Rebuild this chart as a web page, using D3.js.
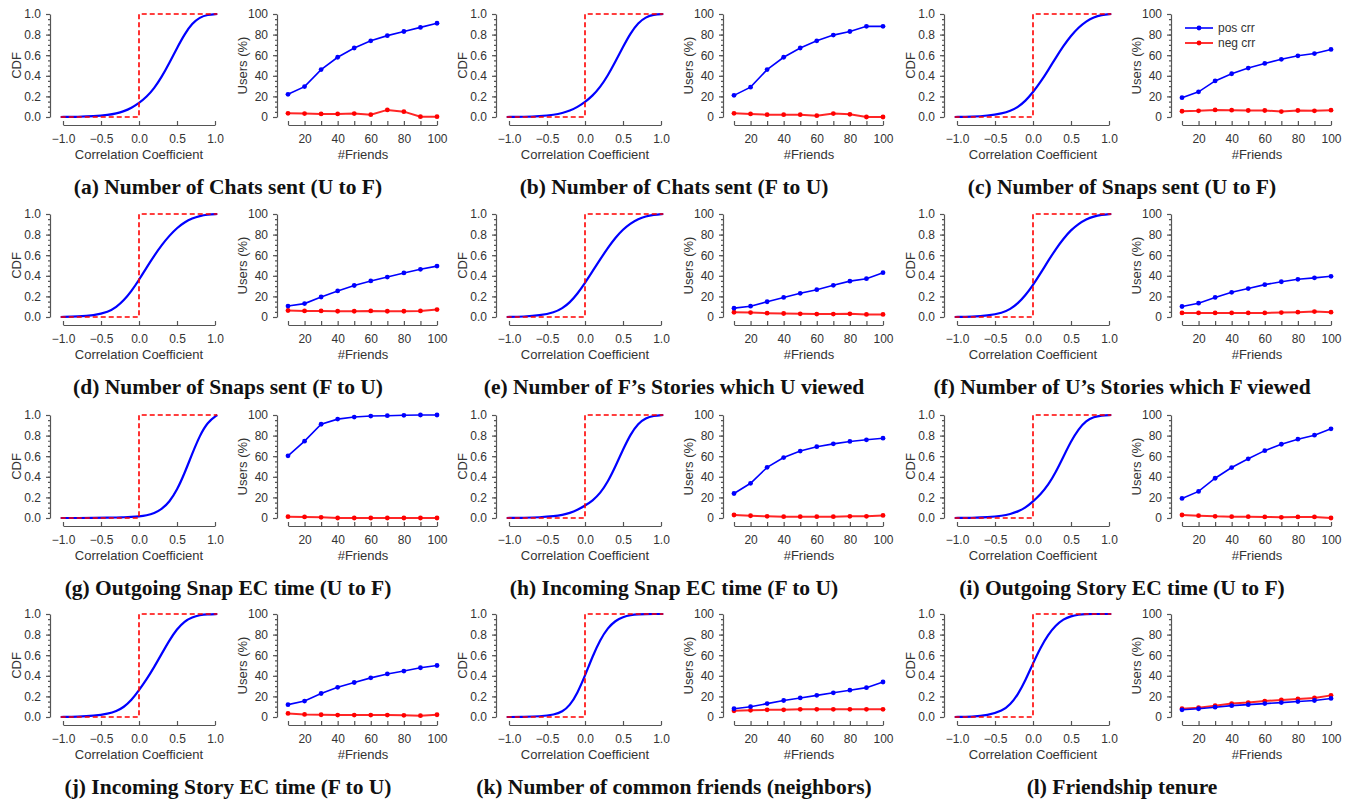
<!DOCTYPE html>
<html>
<head>
<meta charset="utf-8">
<script src="https://cdn.jsdelivr.net/npm/d3@7"></script>
<style>
  body { margin: 0; background: #fff; }
  svg { display: block; }
  .ax text { font-family: "Liberation Sans", Arial, sans-serif; font-size: 12px; fill: #333; }
  .ax path, .ax line { stroke: #555; stroke-width: 1.2; }
  .lbl { font-family: "Liberation Sans", Arial, sans-serif; font-size: 13px; fill: #333; }
  .cap { font-family: "Liberation Serif", "Times New Roman", serif; font-weight: bold; font-size: 21.5px; fill: #111; }
</style>
</head>
<body>
<svg id="fig" width="1354" height="801"></svg>
<script>
// ---- data ----
const captions = [
  "(a) Number of Chats sent (U to F)",
  "(b) Number of Chats sent (F to U)",
  "(c) Number of Snaps sent (U to F)",
  "(d) Number of Snaps sent (F to U)",
  "(e) Number of F\u2019s Stories which U viewed",
  "(f) Number of U\u2019s Stories which F viewed",
  "(g) Outgoing Snap EC time (U to F)",
  "(h) Incoming Snap EC time (F to U)",
  "(i) Outgoing Story EC time (U to F)",
  "(j) Incoming Story EC time (F to U)",
  "(k) Number of common friends (neighbors)",
  "(l) Friendship tenure"
];

// correlation coefficient grid for the CDF curves
const corrX = [-1.03, -0.8, -0.6, -0.4, -0.3, -0.2, -0.1, 0, 0.1, 0.2, 0.3, 0.4, 0.5, 0.6, 0.7, 0.8, 0.9, 1.03];

// CDF values (blue curve), one row per subfigure
const cdfValues = [
  [0, 0.002, 0.007, 0.02, 0.034, 0.055, 0.088, 0.135, 0.195, 0.278, 0.39, 0.525, 0.67, 0.805, 0.91, 0.968, 0.993, 1.0],
  [0, 0.002, 0.008, 0.022, 0.037, 0.06, 0.096, 0.145, 0.206, 0.29, 0.402, 0.537, 0.68, 0.815, 0.915, 0.97, 0.994, 1.0],
  [0, 0.003, 0.012, 0.035, 0.058, 0.095, 0.155, 0.24, 0.34, 0.455, 0.575, 0.69, 0.79, 0.87, 0.93, 0.97, 0.99, 1.0],
  [0, 0.004, 0.015, 0.05, 0.095, 0.16, 0.25, 0.36, 0.48, 0.595, 0.7, 0.79, 0.865, 0.92, 0.958, 0.982, 0.994, 1.0],
  [0, 0.004, 0.014, 0.045, 0.083, 0.14, 0.225, 0.33, 0.445, 0.56, 0.67, 0.77, 0.85, 0.91, 0.952, 0.978, 0.992, 1.0],
  [0, 0.003, 0.012, 0.04, 0.075, 0.13, 0.21, 0.31, 0.425, 0.545, 0.66, 0.76, 0.845, 0.905, 0.95, 0.977, 0.992, 1.0],
  [0, 0, 0.001, 0.003, 0.005, 0.007, 0.01, 0.015, 0.025, 0.045, 0.085, 0.155, 0.27, 0.435, 0.625, 0.8, 0.93, 1.0],
  [0, 0.002, 0.006, 0.018, 0.03, 0.048, 0.078, 0.12, 0.168, 0.24, 0.35, 0.5, 0.665, 0.815, 0.92, 0.972, 0.993, 1.0],
  [0, 0.002, 0.007, 0.022, 0.038, 0.062, 0.1, 0.16, 0.23, 0.32, 0.445, 0.595, 0.745, 0.865, 0.945, 0.982, 0.996, 1.0],
  [0, 0.003, 0.01, 0.032, 0.055, 0.095, 0.162, 0.26, 0.365, 0.485, 0.615, 0.745, 0.855, 0.93, 0.97, 0.99, 0.997, 1.0],
  [0, 0.001, 0.005, 0.022, 0.05, 0.11, 0.23, 0.4, 0.59, 0.75, 0.865, 0.935, 0.972, 0.99, 0.997, 1.0, 1.0, 1.0],
  [0, 0.003, 0.015, 0.06, 0.12, 0.215, 0.355, 0.52, 0.675, 0.8, 0.89, 0.95, 0.98, 0.994, 0.999, 1.0, 1.0, 1.0]
];

// red dashed reference step
const stepX = [-1.03, 0, 0, 1.03];
const stepY = [0, 0, 1, 1];

// #Friends vs Users (%)
const friends = [10, 20, 30, 40, 50, 60, 70, 80, 90, 100];
const posCorr = [
  [22, 29.5, 46, 58, 67, 74, 79, 83, 87, 91],
  [21, 29, 46, 58, 67, 74, 79.5, 83, 88, 88],
  [18.8, 24.4, 35, 42, 47.5, 52, 56, 59.4, 61.6, 65.6],
  [10.6, 13, 19.4, 25.3, 30.6, 35, 38.8, 42.8, 46.3, 49.4],
  [8.6, 10.5, 14.8, 19, 23, 26.5, 30.8, 34.8, 37.2, 43],
  [10.2, 13.4, 19, 24, 27.6, 31.4, 34.2, 36.6, 38, 39.5],
  [60.4, 74.6, 91, 96, 98, 99, 99.3, 99.7, 100, 100],
  [23.8, 33.7, 49.2, 58.7, 65, 69.2, 72, 74.3, 75.9, 77.5],
  [19, 25.8, 38.6, 49, 57.5, 65.4, 71.6, 76.5, 80.4, 86.6],
  [12, 15.5, 22.8, 28.8, 33.5, 38, 41.8, 44.6, 47.8, 50],
  [8, 10, 13, 16, 18.5, 21, 23.5, 26, 28.5, 34],
  [7, 8, 9.5, 11, 12, 13, 14, 15, 16, 18]
];
const negCorr = [
  [3.6, 3.3, 3, 3, 3.3, 2.3, 6.9, 5.2, 0.3, 0.3],
  [3.6, 3, 2.3, 2.3, 2.3, 1.3, 3.3, 2.6, 0, 0],
  [5.6, 6, 6.9, 6.6, 6.3, 6.3, 5.3, 6.3, 6, 6.6],
  [6.3, 5.9, 5.9, 5.6, 5.6, 5.9, 5.6, 5.6, 5.9, 7.2],
  [4.6, 4.3, 3.7, 3.4, 3.1, 2.8, 2.8, 3.1, 2.5, 2.5],
  [4, 4, 4, 4, 4, 4, 4.3, 4.7, 5.3, 4.7],
  [1.3, 1, 0.7, 0, 0, 0, 0, 0, 0, 0],
  [2.9, 2.2, 1.6, 1.3, 1.3, 1.3, 1.3, 1.6, 1.6, 2.5],
  [2.9, 2.3, 1.6, 1.3, 1.3, 1, 0.7, 1, 1, 0],
  [3.5, 2.5, 2.2, 1.9, 1.9, 1.9, 1.9, 1.6, 1.3, 2.2],
  [6, 6.5, 7, 7, 7.5, 7.5, 7.5, 7.5, 7.5, 7.5],
  [8, 9, 11, 13, 14, 15.5, 16.5, 17.5, 18.5, 21]
];
const legendLabels = ["pos crr", "neg crr"];

// ---- layout ----
const colX = [0, 446, 894];
const rowY = [14, 214, 415, 614];
const plotH = 103;
const BLUE = "#0000ff", RED = "#ff0000";

const svg = d3.select("#fig");
svg.append("rect").attr("width", 1354).attr("height", 801).attr("fill", "#fff");

function yAxisWithMinor(g, y, major, minor, fmt) {
  g.append("g").attr("class", "ax")
    .call(d3.axisLeft(y).tickValues(minor).tickSize(2).tickSizeOuter(0).tickFormat(""))
    .select(".domain").remove();
  g.append("g").attr("class", "ax")
    .call(d3.axisLeft(y).tickValues(major).tickSize(4).tickSizeOuter(0).tickPadding(5).tickFormat(fmt));
}

function drawPanel(i) {
  const c0 = colX[i % 3], r0 = rowY[Math.floor(i / 3)];

  // ---- CDF plot ----
  const cdf = svg.append("g");
  const x = d3.scaleLinear().domain([-1, 1]).range([c0 + 63, c0 + 215]);
  const y = d3.scaleLinear().domain([0, 1]).range([r0 + plotH, r0]);

  cdf.append("g").attr("transform", `translate(${c0 + 50},0)`)
    .call(g => yAxisWithMinor(g, y, d3.range(0, 1.01, 0.2), d3.range(0, 1.001, 0.05), d3.format(".1f")));
  cdf.append("g").attr("class", "ax").attr("transform", `translate(0,${r0 + plotH + 8})`)
    .call(d3.axisBottom(x).tickValues([-1, -0.5, 0, 0.5, 1]).tickSize(-4).tickSizeOuter(0)
      .tickPadding(9).tickFormat(d3.format(".1f")));

  const cdfLine = d3.line().x(d => x(d[0])).y(d => y(d[1])).curve(d3.curveBasis);
  cdf.append("path")
    .attr("d", cdfLine(corrX.map((v, k) => [v, cdfValues[i][k]])))
    .attr("fill", "none").attr("stroke", BLUE).attr("stroke-width", 2.2);
  cdf.append("path")
    .attr("d", d3.line().x(d => x(d[0])).y(d => y(d[1]))(stepX.map((v, k) => [v, stepY[k]])))
    .attr("fill", "none").attr("stroke", RED).attr("stroke-width", 1.6).attr("stroke-dasharray", "5,3");

  cdf.append("text").attr("class", "lbl").attr("text-anchor", "middle")
    .attr("transform", `translate(${c0 + 16},${r0 + plotH / 2}) rotate(-90)`).attr("dy", "0.35em").text("CDF");
  cdf.append("text").attr("class", "lbl").attr("text-anchor", "middle")
    .attr("x", c0 + 139).attr("y", r0 + 145).text("Correlation Coefficient");

  // ---- Users (%) plot ----
  const us = svg.append("g");
  const xu = d3.scaleLinear().domain([10, 100]).range([c0 + 288, c0 + 437]);
  const yu = d3.scaleLinear().domain([0, 100]).range([r0 + plotH, r0]);

  us.append("g").attr("transform", `translate(${c0 + 277},0)`)
    .call(g => yAxisWithMinor(g, yu, d3.range(0, 101, 20), d3.range(0, 101, 5), d3.format("d")));
  us.append("g").attr("class", "ax").attr("transform", `translate(0,${r0 + plotH + 8})`)
    .call(d3.axisBottom(xu).tickValues(friends).tickSize(-4).tickSizeOuter(0)
      .tickPadding(9).tickFormat(d => d % 20 === 0 ? d : ""));

  const ul = d3.line().x(d => xu(d[0])).y(d => yu(d[1]));
  [[negCorr[i], RED, 2], [posCorr[i], BLUE, 1.6]].forEach(([vals, col, sw]) => {
    const pts = friends.map((f, k) => [f, vals[k]]);
    us.append("path").attr("d", ul(pts)).attr("fill", "none")
      .attr("stroke", col).attr("stroke-width", sw).attr("stroke-opacity", col === RED ? 0.85 : 1);
    us.selectAll(null).data(pts).enter().append("circle")
      .attr("cx", d => xu(d[0])).attr("cy", d => yu(d[1])).attr("r", 2.4).attr("fill", col);
  });

  us.append("text").attr("class", "lbl").attr("text-anchor", "middle")
    .attr("transform", `translate(${c0 + 242},${r0 + plotH / 2}) rotate(-90)`).attr("dy", "0.35em").text("Users (%)");
  us.append("text").attr("class", "lbl").attr("text-anchor", "middle")
    .attr("x", c0 + 363).attr("y", r0 + 145).text("#Friends");

  // legend only in (c)
  if (i === 2) {
    [BLUE, RED].forEach((col, k) => {
      const ly = r0 + 14 + k * 15;
      us.append("line").attr("x1", c0 + 291).attr("x2", c0 + 319).attr("y1", ly).attr("y2", ly)
        .attr("stroke", col).attr("stroke-width", 1.6);
      us.append("circle").attr("cx", c0 + 305).attr("cy", ly).attr("r", 2.4).attr("fill", col);
      us.append("text").attr("class", "lbl").style("font-size", "12px")
        .attr("x", c0 + 324).attr("y", ly).attr("dy", "0.35em").text(legendLabels[k]);
    });
  }

  // caption
  svg.append("text").attr("class", "cap").attr("text-anchor", "middle")
    .attr("x", c0 + 228).attr("y", r0 + 180).text(captions[i]);
}

captions.forEach((_, i) => drawPanel(i));
</script>
</body>
</html>
